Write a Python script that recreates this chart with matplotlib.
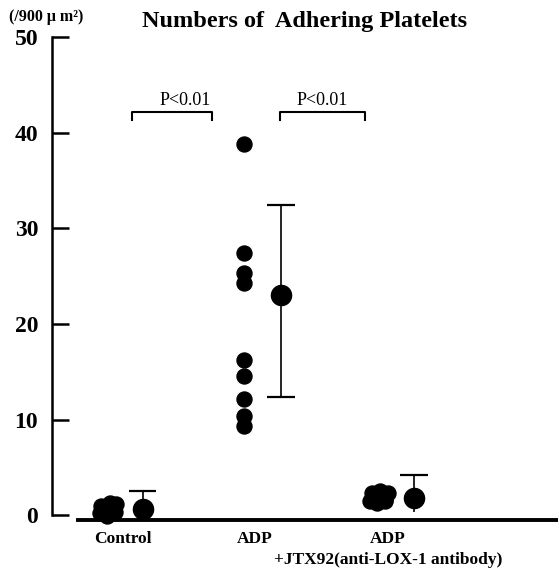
import matplotlib
matplotlib.use("Agg")
import matplotlib.pyplot as plt

plt.rcParams['font.family'] = ['Liberation Serif', 'DejaVu Serif']

# individual observations (x is group index + small spread)
ctrl_x = [-0.05, 0.0, 0.06, -0.04, 0.02, 0.07, 0.03, -0.02, 0.05]
ctrl_y = [0.2, -0.1, 0.3, 1.0, 1.3, 1.2, 0.6, 0.6, 0.9]
adp_x = [1.0] * 9
adp_y = [38.8, 27.4, 25.3, 24.3, 16.2, 14.6, 12.2, 10.4, 9.3]
jtx_x = [1.92, 1.97, 2.03, 1.93, 1.99, 2.05, 1.96, 2.03, 2.0]
jtx_y = [1.5, 1.3, 1.6, 2.3, 2.5, 2.3, 1.9, 1.5, 2.0]

# group means with error bar ends
mean_x = [0.26, 1.27, 2.24]
mean_y = [0.6, 23.0, 1.8]
err_lo = [0.6, 12.4, 0.3]
err_hi = [2.5, 32.4, 4.2]
cap_lo = [False, True, False]

categories = ['Control', 'ADP', 'ADP\n+JTX92(anti-LOX-1 antibody)']
cat_pos = [0.12, 1.08, 2.05]

# significance brackets
brackets = [(0.18, 0.77), (1.26, 1.88)]
bracket_text_x = [0.57, 1.57]
p_labels = ['P<0.01', 'P<0.01']

fig = plt.figure(figsize=(5.58, 5.68), dpi=100)
ax = fig.add_axes([52 / 558, 1 - 520 / 568, 1 - 52 / 558, (520 - 35) / 568])
ax.set_xlim(-0.40, 3.29)
ax.set_ylim(-0.5, 50.2)

ms = 10.8
ax.plot(ctrl_x, ctrl_y, 'o', color='black', ms=ms, clip_on=False)
ax.plot(adp_x, adp_y, 'o', color='black', ms=ms, clip_on=False)
ax.plot(jtx_x, jtx_y, 'o', color='black', ms=ms, clip_on=False)

cap = 0.1
ax.vlines(mean_x, err_lo, err_hi, color='black', lw=1.2)
ax.hlines(err_hi, [x - cap for x in mean_x], [x + cap for x in mean_x],
          color='black', lw=1.6)
for x, lo, c in zip(mean_x, err_lo, cap_lo):
    if c:
        ax.hlines(lo, x - cap, x + cap, color='black', lw=1.6)
ax.plot(mean_x, mean_y, 'o', color='black', ms=14.5, clip_on=False)

for (x0, x1), tx, lab in zip(brackets, bracket_text_x, p_labels):
    ax.plot([x0, x0, x1, x1], [41.3, 42.2, 42.2, 41.3], color='black', lw=1.5)
    ax.text(tx, 42.5, lab, ha='center', va='bottom', fontsize=13)

# axes styling
for s in ['top', 'right']:
    ax.spines[s].set_visible(False)
ax.spines['left'].set_linewidth(1.8)
ax.spines['left'].set_bounds(0, 50)
ax.spines['bottom'].set_linewidth(2.8)
ax.spines['bottom'].set_bounds(-0.21, 3.29)

ax.set_yticks([0, 10, 20, 30, 40, 50])
ax.tick_params(axis='y', direction='in', length=12, width=1.8, pad=10,
               labelsize=17)
for t in ax.get_yticklabels():
    t.set_fontweight('bold')
ax.set_xticks(cat_pos)
ax.set_xticklabels(categories, fontsize=12.5, fontweight='bold',
                   linespacing=1.4)
ax.tick_params(axis='x', length=0, pad=8)

fig.text(305 / 558, 1 - 21 / 568, 'Numbers of  Adhering Platelets',
         ha='center', va='center', fontsize=17.5, fontweight='bold')
fig.text(9 / 558, 1 - 17 / 568, '(/900 \u03bc m\u00b2)', ha='left',
         va='center', fontsize=11.5, fontweight='bold')

fig.savefig('out.png', dpi=100)
